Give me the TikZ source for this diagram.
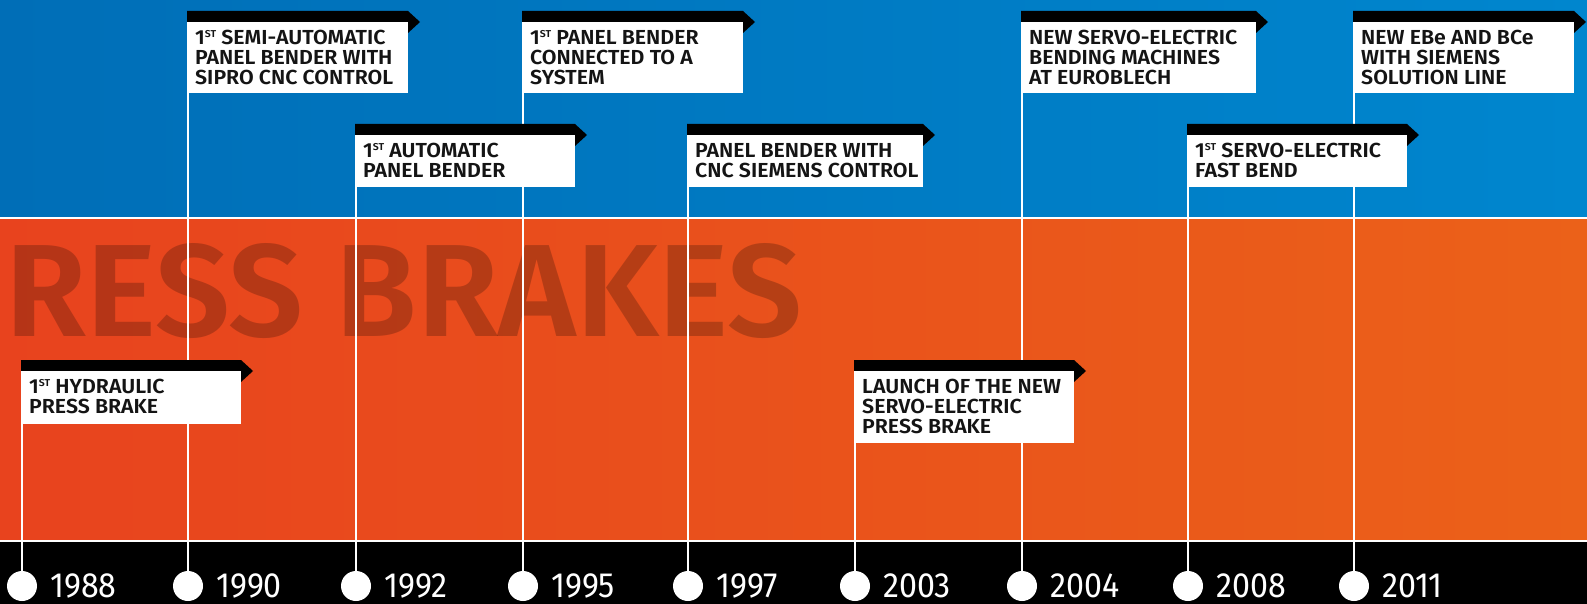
\documentclass[tikz,border=0pt]{standalone}
\usepackage{fontspec}
\setmainfont{Fira Sans}
\newfontfamily\labfont{Fira Sans SemiBold}[FakeStretch=1.05]
\newfontfamily\wmfont{Fira Sans SemiBold}
\newfontfamily\yrfont{Fira Sans}[FakeStretch=0.92]
\definecolor{blueL}{RGB}{0,110,183}
\definecolor{blueR}{RGB}{0,134,206}
\definecolor{oraL}{RGB}{232,67,30}
\definecolor{oraR}{RGB}{235,97,25}
\definecolor{labtext}{RGB}{20,20,20}
\newcommand\supST{\raisebox{7pt}{\fontsize{10}{10}\selectfont ST}}
\tikzset{
  vline/.style={draw=white, line width=2pt},
  dot/.style={circle, fill=white, inner sep=0pt, minimum size=30pt},
  lab/.style={font=\labfont\fontsize{20.3}{20}\selectfont, text=labtext, align=left, inner sep=0pt, anchor=north west},
  yr/.style={font=\yrfont\fontsize{35}{35}\selectfont, text=white, inner sep=0pt, anchor=base west},
  flagbar/.style={fill=black},
  flagbox/.style={fill=white}
}
% #1 name, #2 line x, #3 top, #4 box right, #5 box bottom, #6 text
\newcommand\flagat[6]{%
  \fill[flagbar] (#2-1,#3) -- (#4,#3) -- (#4+12,#3+11) -- (#4,#3+22) -- (#4,#3+11) -- (#2-1,#3+11) -- cycle;
  \fill[flagbox] (#2-1,#3+11) rectangle (#4,#5);
  \node[lab] (n#1) at (#2+7,#3+19) {#6};
}
% #1 name, #2 x, #3 top, #4 year
\newcommand\stem[4]{%
  \coordinate (t#1) at (#2,#3);
  \node[dot] (d#1) at (#2,586) {};
  \draw[vline] (t#1) -- (d#1.center);
  \node[yr] (y#1) at (#2+28,597) {#4};
}
\begin{document}
\begin{tikzpicture}[x=1pt,y=-1pt]
\useasboundingbox (0,0) rectangle (1587,604);
\fill[white] (0,0) rectangle (1587,604);
\shade[left color=blueL, right color=blueR] (0,0) rectangle (1587,216.5);
\shade[left color=oraL, right color=oraR] (0,219.5) rectangle (1587,539.3);
\fill[black] (0,542.2) rectangle (1587,604);
\node[inner sep=0pt, anchor=base west, text=black, text opacity=0.22] (wm) at (5,336.5)
  {\resizebox{797pt}{93pt}{\wmfont RESS BRAKES}};
\stem{a}{22}{360}{1988}
\stem{b}{188}{11}{1990}
\stem{c}{356}{124}{1992}
\stem{d}{523}{11}{1995}
\stem{e}{688}{124}{1997}
\stem{f}{855}{360}{2003}
\stem{g}{1022}{11}{2004}
\stem{h}{1188}{124}{2008}
\stem{i}{1354}{11}{2011}
\flagat{a}{22}{360}{241}{424}{1\supST{} HYDRAULIC\\PRESS BRAKE}
\flagat{b}{188}{11}{408}{93}{1\supST{} SEMI-AUTOMATIC\\PANEL BENDER WITH\\SIPRO CNC CONTROL}
\flagat{c}{356}{124}{575}{187}{1\supST{} AUTOMATIC\\PANEL BENDER}
\flagat{d}{523}{11}{743}{93}{1\supST{} PANEL BENDER\\CONNECTED TO A\\SYSTEM}
\flagat{e}{688}{124}{923}{187}{PANEL BENDER WITH\\CNC SIEMENS CONTROL}
\flagat{f}{855}{360}{1074}{443}{LAUNCH OF THE NEW\\SERVO-ELECTRIC\\PRESS BRAKE}
\flagat{g}{1022}{11}{1256}{93}{NEW SERVO-ELECTRIC\\BENDING MACHINES\\AT EUROBLECH}
\flagat{h}{1188}{124}{1407}{187}{1\supST{} SERVO-ELECTRIC\\FAST BEND}
\flagat{i}{1354}{11}{1574}{93}{NEW EBe AND BCe\\WITH SIEMENS\\SOLUTION LINE}
\end{tikzpicture}
\end{document}
